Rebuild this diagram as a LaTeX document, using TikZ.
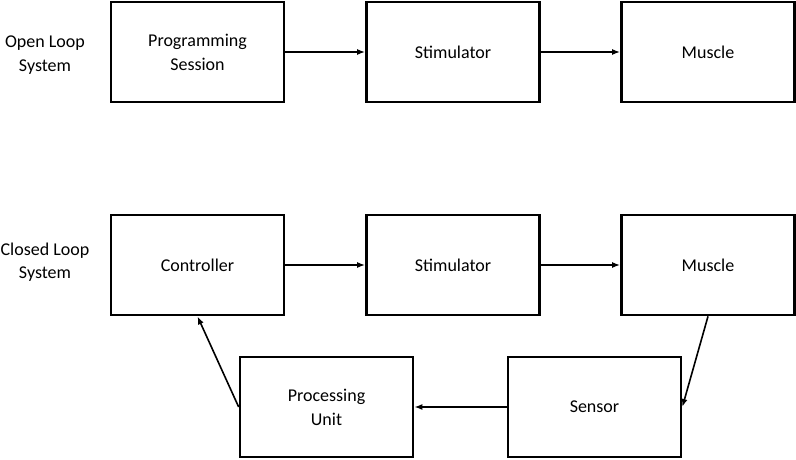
\documentclass[tikz,border=0pt]{standalone}
\usepackage{fontspec}
\setmainfont{Carlito}
\usetikzlibrary{arrows.meta}
\tikzset{
  blk/.style={draw, line width=2pt, minimum width=129.75pt, minimum height=75pt,
    align=center, font=\fontsize{13.5}{18}\selectfont, inner sep=0pt},
  lbl/.style={align=center, font=\fontsize{13.5}{17.5}\selectfont},
  >={Latex[length=6pt,width=4.5pt]}
}
\begin{document}
\begin{tikzpicture}
    \def\x{0.75pt}
    \def\y{-0.75pt}
    \useasboundingbox (0,0) rectangle (796*\x, 460*\y);
    % open loop
    \node [lbl] (OL) at (45*\x, 55*\y) {Open Loop\\System};
    \node [blk] (A0_0) at (197.5*\x, 52*\y) {Programming\\Session};
    \node [blk] (A0_1) at (453*\x, 52*\y) {Stimulator};
    \node [blk] (A0_2) at (708*\x, 52*\y) {Muscle};
    \path (A0_0) edge [->,line width=1.2pt] (A0_1);
    \path (A0_1) edge [->,line width=1.2pt] (A0_2);
    % closed loop
    \node [lbl] (CL) at (45*\x, 262*\y) {Closed Loop\\System};
    \node [blk] (A1_0) at (197.5*\x, 265*\y) {Controller};
    \node [blk] (A1_1) at (453*\x, 265*\y) {Stimulator};
    \node [blk] (A1_2) at (708*\x, 265*\y) {Muscle};
    \node [blk] (A2_0) at (326.5*\x, 407*\y) {Processing\\Unit};
    \node [blk] (A2_1) at (594.5*\x, 407*\y) {Sensor};
    \path (A1_0) edge [->,line width=1.2pt] (A1_1);
    \path (A1_1) edge [->,line width=1.2pt] (A1_2);
    \path (A1_2.south) edge [->,line width=1.2pt] (A2_1.east);
    \path (A2_1.west) edge [->,line width=1.2pt] (A2_0.east);
    \path (A2_0.west) edge [->,line width=1.2pt] (A1_0.south);
  \end{tikzpicture}
\end{document}
